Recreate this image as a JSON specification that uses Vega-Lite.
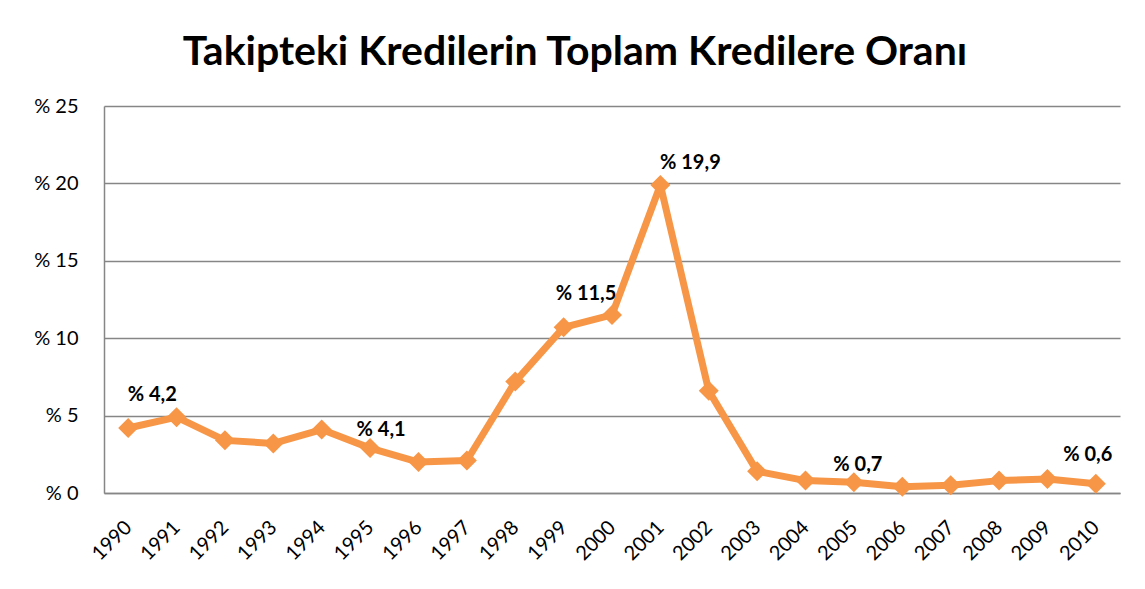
{
  "$schema": "https://vega.github.io/schema/vega-lite/v6.json",
  "width": 1016,
  "height": 387,
  "autosize": {"type": "none"},
  "padding": {"left": 104, "top": 106, "right": 25, "bottom": 96},
  "background": "white",
  "config": {"view": {"stroke": null}, "font": "Lato"},
  "title": {
    "text": "Takipteki Kredilerin Toplam Kredilere Oranı",
    "font": "Lato", "fontSize": 41, "fontWeight": "bold", "color": "black",
    "anchor": "middle", "frame": "group", "dx": -37, "dy": 51, "baseline": "alphabetic", "offset": 41
  },
  "datasets": {
    "oran": [
      {"yil": "1990", "oran": 4.2},
      {"yil": "1991", "oran": 4.9},
      {"yil": "1992", "oran": 3.4},
      {"yil": "1993", "oran": 3.2},
      {"yil": "1994", "oran": 4.1},
      {"yil": "1995", "oran": 2.9},
      {"yil": "1996", "oran": 2.0},
      {"yil": "1997", "oran": 2.1},
      {"yil": "1998", "oran": 7.2},
      {"yil": "1999", "oran": 10.7},
      {"yil": "2000", "oran": 11.5},
      {"yil": "2001", "oran": 19.9},
      {"yil": "2002", "oran": 6.6},
      {"yil": "2003", "oran": 1.4},
      {"yil": "2004", "oran": 0.8},
      {"yil": "2005", "oran": 0.7},
      {"yil": "2006", "oran": 0.4},
      {"yil": "2007", "oran": 0.5},
      {"yil": "2008", "oran": 0.8},
      {"yil": "2009", "oran": 0.9},
      {"yil": "2010", "oran": 0.6}
    ],
    "etiket": [
      {"yil": "1990", "oran": 4.2, "metin": "% 4,2"},
      {"yil": "1995", "oran": 2.9, "metin": "% 4,1"},
      {"yil": "2000", "oran": 11.5, "metin": "% 11,5"},
      {"yil": "2001", "oran": 19.9, "metin": "% 19,9"},
      {"yil": "2005", "oran": 0.7, "metin": "% 0,7"},
      {"yil": "2010", "oran": 0.6, "metin": "% 0,6"}
    ]
  },
  "encoding": {
    "x": {
      "field": "yil", "type": "ordinal", "title": null,
      "axis": {
        "labelAngle": -45, "labelAlign": "right", "labelBaseline": "middle",
        "labelFont": "Lato", "labelFontSize": 20, "labelColor": "black",
        "labelPadding": 31, "ticks": false, "domainColor": "#868686", "domainWidth": 1.5,
        "grid": false
      }
    },
    "y": {
      "field": "oran", "type": "quantitative", "title": null,
      "scale": {"domain": [0, 25], "nice": false},
      "axis": {
        "values": [0, 5, 10, 15, 20, 25],
        "labelExpr": "'% ' + datum.value",
        "labelFont": "Lato", "labelFontSize": 20, "labelColor": "black",
        "labelPadding": 26, "ticks": false,
        "domainColor": "#868686", "domainWidth": 1.5,
        "grid": true, "gridColor": "#868686", "gridWidth": 1.5
      }
    }
  },
  "layer": [
    {
      "data": {"name": "oran"},
      "mark": {"type": "line", "color": "#F79646", "strokeWidth": 7, "strokeJoin": "round"}
    },
    {
      "data": {"name": "oran"},
      "mark": {"type": "point", "shape": "diamond", "filled": true, "size": 400, "color": "#F79646", "opacity": 1}
    },
    {
      "data": {"name": "etiket"},
      "transform": [{"filter": "datum.yil == '1990'"}],
      "mark": {"type": "text", "font": "Lato", "fontWeight": "bold", "fontSize": 20, "color": "black", "baseline": "middle", "dx": 24, "dy": -33},
      "encoding": {"text": {"field": "metin"}}
    },
    {
      "data": {"name": "etiket"},
      "transform": [{"filter": "datum.yil == '1995'"}],
      "mark": {"type": "text", "font": "Lato", "fontWeight": "bold", "fontSize": 20, "color": "black", "baseline": "middle", "dx": 11, "dy": -18},
      "encoding": {"text": {"field": "metin"}}
    },
    {
      "data": {"name": "etiket"},
      "transform": [{"filter": "datum.yil == '2000'"}],
      "mark": {"type": "text", "font": "Lato", "fontWeight": "bold", "fontSize": 20, "color": "black", "baseline": "middle", "dx": -26, "dy": -21},
      "encoding": {"text": {"field": "metin"}}
    },
    {
      "data": {"name": "etiket"},
      "transform": [{"filter": "datum.yil == '2001'"}],
      "mark": {"type": "text", "font": "Lato", "fontWeight": "bold", "fontSize": 20, "color": "black", "baseline": "middle", "dx": 30, "dy": -22},
      "encoding": {"text": {"field": "metin"}}
    },
    {
      "data": {"name": "etiket"},
      "transform": [{"filter": "datum.yil == '2005'"}],
      "mark": {"type": "text", "font": "Lato", "fontWeight": "bold", "fontSize": 20, "color": "black", "baseline": "middle", "dx": 4, "dy": -17},
      "encoding": {"text": {"field": "metin"}}
    },
    {
      "data": {"name": "etiket"},
      "transform": [{"filter": "datum.yil == '2010'"}],
      "mark": {"type": "text", "font": "Lato", "fontWeight": "bold", "fontSize": 20, "color": "black", "baseline": "middle", "dx": -8, "dy": -29},
      "encoding": {"text": {"field": "metin"}}
    }
  ]
}
